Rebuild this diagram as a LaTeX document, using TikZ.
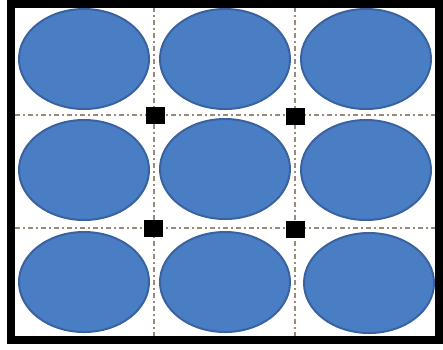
\documentclass[tikz,border=0pt]{standalone}
\usetikzlibrary{shapes.geometric}
\definecolor{cellblue}{HTML}{4A7EC4}
\definecolor{cellline}{HTML}{3A62A0}
\definecolor{gridline}{HTML}{9A8A7A}
\tikzset{
  cell/.style={ellipse, draw=cellline, line width=2pt, fill=cellblue, minimum width=130pt, minimum height=100pt, inner sep=0pt},
  pin/.style={rectangle, fill=black, minimum width=19pt, minimum height=17pt, inner sep=0pt},
  gridrule/.style={gridline, line width=1.2pt, dash pattern=on 5pt off 3pt on 2pt off 3pt}
}
\begin{document}
\begin{tikzpicture}[x=1pt,y=-1pt]
\useasboundingbox (0,0) rectangle (443,349);
\fill[white] (0,0) rectangle (443,349);
% grid lines
\coordinate (vl1t) at (154,7); \coordinate (vl1b) at (154,337);
\coordinate (vl2t) at (295,7); \coordinate (vl2b) at (295,337);
\coordinate (hl1l) at (15,115); \coordinate (hl1r) at (435,115);
\coordinate (hl2l) at (15,228); \coordinate (hl2r) at (435,228);
\draw[gridrule] (vl1t) -- (vl1b);
\draw[gridrule] (vl2t) -- (vl2b);
\draw[gridrule] (hl1l) -- (hl1r);
\draw[gridrule] (hl2l) -- (hl2r);
% ellipses
\node[cell] (c11) at (84,59) {};
\node[cell] (c12) at (225,59) {};
\node[cell] (c13) at (366,59) {};
\node[cell] (c21) at (84,170) {};
\node[cell] (c22) at (225,169) {};
\node[cell] (c23) at (366,170) {};
\node[cell] (c31) at (84,282) {};
\node[cell] (c32) at (225,282) {};
\node[cell] (c33) at (369,283) {};
% squares
\node[pin] (p1) at (155,115) {};
\node[pin] (p2) at (295,116) {};
\node[pin] (p3) at (153,228) {};
\node[pin] (p4) at (295,229) {};
% frame
\draw[black, line width=8pt] (10.5,4) rectangle (439,340);
\end{tikzpicture}
\end{document}
